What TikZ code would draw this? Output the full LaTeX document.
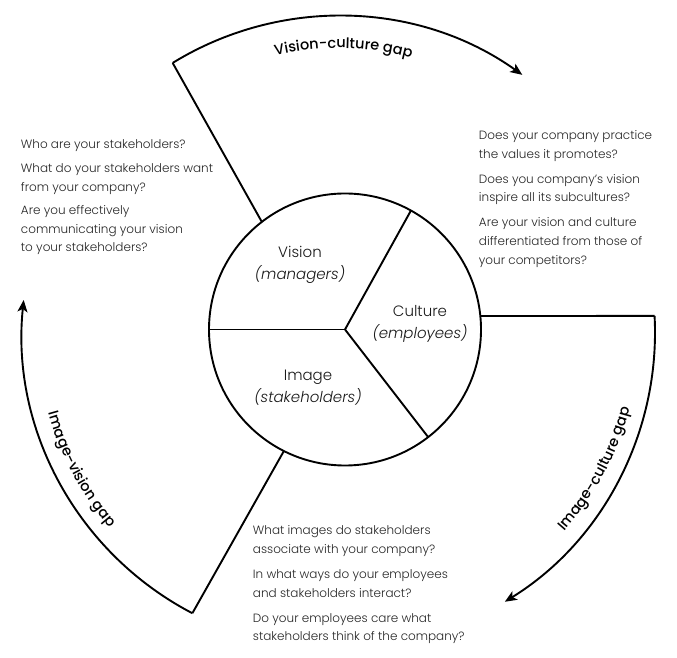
\documentclass[tikz,border=0pt]{standalone}
\usepackage{fontspec}
\setmainfont{Poppins}
\IfFontExistsTF{Poppins Light}{\newfontfamily\qfont{Poppins Light}}{\newfontfamily\qfont{Poppins}}
\IfFontExistsTF{Poppins Medium}{\newfontfamily\gfont{Poppins Medium}}{\newfontfamily\gfont{Poppins}}
\usetikzlibrary{arrows.meta,calc,decorations.text}
\begin{document}
\begin{tikzpicture}[x=1pt,y=1pt,line width=1.9pt,
  qtext/.style={font=\qfont\fontsize{12}{18.6}\selectfont,align=left,anchor=north west,inner sep=0pt,text=black!85},
  seglabel/.style={font=\qfont\fontsize{15}{22}\selectfont,align=center,inner sep=0pt,text=black!90},
  gaparrow/.style={-{Stealth[length=12pt,width=10pt,inset=3pt]}},
  gaptext/.style={decorate,decoration={text along path,text align=center,text={|\gfont\fontsize{14.5}{16}\selectfont|#1}}}]
\useasboundingbox (0,0) rectangle (677,658);
\coordinate (O) at (338.5,325.5);
\coordinate (I) at (345,328.5);
% inner circle and dividers
\draw (I) circle[radius=136];
\coordinate (d1) at ($(I)+(61:136)$);
\coordinate (d2) at ($(I)+(-52.3:136)$);
\coordinate (d3) at ($(I)+(180:136)$);
\draw (I) -- (d1);
\draw (I) -- (d2);
\draw (I) -- (d3);
% connectors from circle to outer arcs
\coordinate (tA) at ($(O)+(121.6:316.5)$);
\coordinate (tC) at ($(I)+(127.7:136)$);
\coordinate (rA) at ($(O)+(3:316.5)$);
\coordinate (rC) at ($(I)+(5.7:136)$);
\coordinate (lA) at ($(O)+(242.5:316.5)$);
\coordinate (lC) at ($(I)+(243.3:136)$);
\draw (tC) -- (tA);
\draw (rC) -- (rA);
\draw (lC) -- (lA);
% outer arcs
\draw[gaparrow] (tA) arc[start angle=121.6,end angle=54.5,radius=316.5];
\draw[gaparrow] (rA) arc[start angle=3,end angle=-58.3,radius=316.5];
\draw[gaparrow] (lA) arc[start angle=242.5,end angle=174.1,radius=316.5];
% curved labels
\path[gaptext={Vision-culture gap}] ($(O)+(112:284.5)$) arc[start angle=112,end angle=66,radius=284.5];
\path[gaptext={Image-culture gap}] ($(O)+(-50:301)$) arc[start angle=-50,end angle=-6,radius=301];
\path[gaptext={Image-vision gap}] ($(O)+(185:301)$) arc[start angle=185,end angle=231,radius=301];
% segment labels
\node[seglabel] (vision) at (300,393.5) {Vision\\\itshape(managers)};
\node[seglabel] (culture) at (420,334) {Culture\\\itshape(employees)};
\node[seglabel] (image) at (308,270.5) {Image\\\itshape(stakeholders)};
% question blocks
\node[qtext] (qleft) at (20,519) {Who are your stakeholders?\\[5pt]What do your stakeholders want\\from your company?\\[5pt]Are you effectively\\communicating your vision\\to your stakeholders?};
\node[qtext] (qright) at (478,528.5) {Does your company practice\\the values it promotes?\\[6.5pt]Does you company’s vision\\inspire all its subcultures?\\[6.5pt]Are your vision and culture\\differentiated from those of\\your competitors?};
\node[qtext] (qbottom) at (252,133) {What images do stakeholders\\associate with your company?\\[6.5pt]In what ways do your employees\\and stakeholders interact?\\[6.5pt]Do your employees care what\\stakeholders think of the company?};
\end{tikzpicture}
\end{document}
